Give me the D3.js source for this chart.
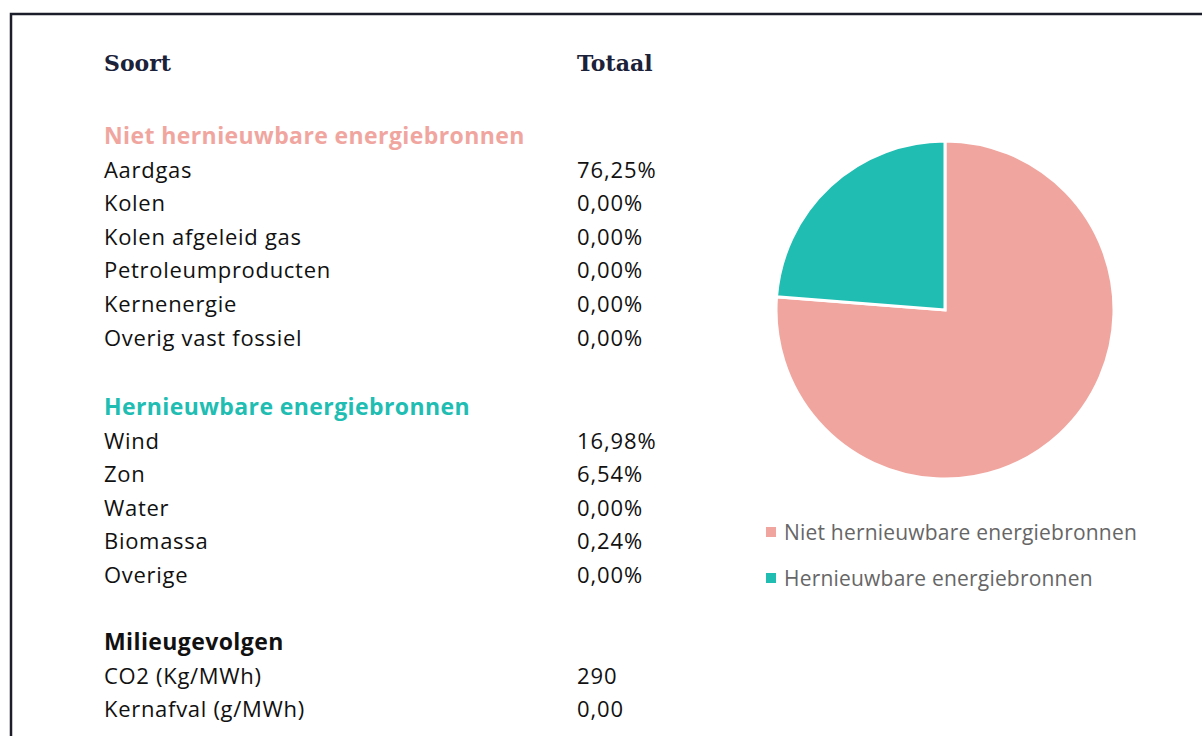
<!DOCTYPE html>
<html>
<head>
<meta charset="utf-8">
<script src="https://cdn.jsdelivr.net/npm/d3@7"></script>
<style>
  body { margin: 0; background: #fff; }
  svg { display: block; }
</style>
</head>
<body>
<div id="chart"></div>
<script>
const width = 1202;
const height = 736;

const nonRenewableNames = ["Aardgas", "Kolen", "Kolen afgeleid gas", "Petroleumproducten", "Kernenergie", "Overig vast fossiel"];
const nonRenewableValues = ["76,25%", "0,00%", "0,00%", "0,00%", "0,00%", "0,00%"];
const renewableNames = ["Wind", "Zon", "Water", "Biomassa", "Overige"];
const renewableValues = ["16,98%", "6,54%", "0,00%", "0,24%", "0,00%"];
const impactNames = ["CO2 (Kg/MWh)", "Kernafval (g/MWh)"];
const impactValues = ["290", "0,00"];

const pieLabels = ["Niet hernieuwbare energiebronnen", "Hernieuwbare energiebronnen"];
const pieValues = [76.25, 23.76];

const color = d3.scaleOrdinal()
  .domain(pieLabels)
  .range(["#f0a69f", "#20bdb3"]);

const bodyFont = "'Open Sans', sans-serif";
const headFont = "'DejaVu Serif', serif";

const svg = d3.select("#chart")
  .append("svg")
  .attr("width", width)
  .attr("height", height);

// frame
svg.append("rect")
  .attr("x", 11)
  .attr("y", 14)
  .attr("width", width + 20)
  .attr("height", height + 20)
  .attr("fill", "none")
  .attr("stroke", "#1c1d2b")
  .attr("stroke-width", 2.5);

const colName = 104;
const colValue = 577;
const rowH = 33.6;

// header
const header = svg.append("g")
  .style("font-family", headFont)
  .style("font-weight", "bold")
  .style("font-size", "22px")
  .attr("fill", "#1a2138");
header.append("text").attr("x", colName).attr("y", 71).text("Soort");
header.append("text").attr("x", colValue).attr("y", 71).text("Totaal");

function section(title, titleColor, names, values, y0) {
  const g = svg.append("g").style("font-family", bodyFont);
  g.append("text")
    .attr("x", colName)
    .attr("y", y0)
    .attr("dominant-baseline", "central")
    .attr("fill", titleColor)
    .style("font-weight", "bold")
    .style("font-size", "23px")
    .style("letter-spacing", "0.4px")
    .text(title);

  const rows = g.selectAll(".row")
    .data(names)
    .enter()
    .append("g")
    .attr("class", "row")
    .attr("transform", (d, i) => `translate(0,${y0 + rowH * (i + 1)})`);

  rows.append("text")
    .attr("x", colName)
    .attr("dominant-baseline", "central")
    .attr("fill", "#111")
    .style("font-size", "22px")
    .style("letter-spacing", "0.7px")
    .text(d => d);

  rows.append("text")
    .attr("x", colValue)
    .attr("dominant-baseline", "central")
    .attr("fill", "#111")
    .style("font-size", "22px")
    .style("letter-spacing", "0.9px")
    .text((d, i) => values[i]);
}

section("Niet hernieuwbare energiebronnen", "#f0a69f", nonRenewableNames, nonRenewableValues, 135);
section("Hernieuwbare energiebronnen", "#20bdb3", renewableNames, renewableValues, 406);
section("Milieugevolgen", "#111", impactNames, impactValues, 641);

// pie
const radius = 169;
const pie = d3.pie().sort(null).value(d => d);
const arc = d3.arc().innerRadius(0).outerRadius(radius);

const pieG = svg.append("g")
  .attr("transform", "translate(945,310)");

pieG.selectAll("path")
  .data(pie(pieValues))
  .enter()
  .append("path")
  .attr("d", arc)
  .attr("fill", (d, i) => color(pieLabels[i]))
  .attr("stroke", "#fff")
  .attr("stroke-width", 3);

// legend
const legend = svg.append("g")
  .attr("transform", "translate(766,532)")
  .style("font-family", bodyFont);

const items = legend.selectAll(".item")
  .data(pieLabels)
  .enter()
  .append("g")
  .attr("class", "item")
  .attr("transform", (d, i) => `translate(0,${i * 46})`);

items.append("rect")
  .attr("x", 0)
  .attr("y", -5)
  .attr("width", 10)
  .attr("height", 10)
  .attr("fill", d => color(d));

items.append("text")
  .attr("x", 18)
  .attr("dominant-baseline", "central")
  .attr("fill", "#666")
  .style("font-size", "21px")
  .style("letter-spacing", "0.2px")
  .text(d => d);
</script>
</body>
</html>
